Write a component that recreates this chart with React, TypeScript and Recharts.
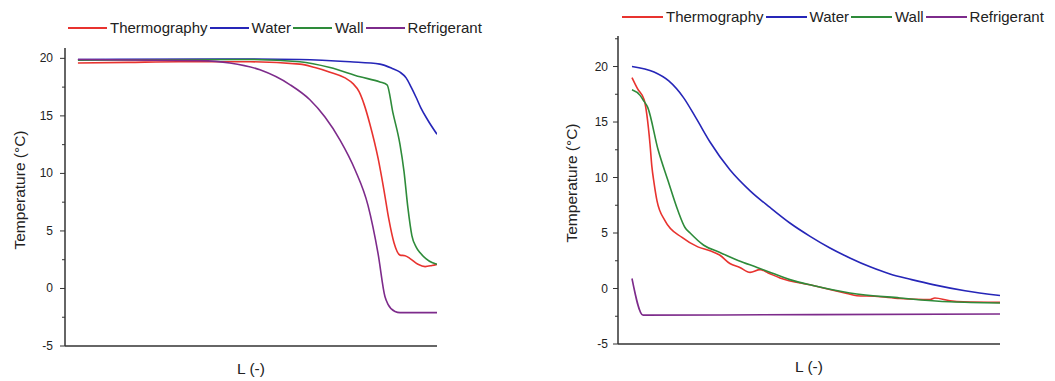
import { LineChart, Line, XAxis, YAxis } from "recharts"

const FONT = "'Liberation Sans', Arial, sans-serif"
const TEXT = "#222"
const AXIS = "#333"

const SERIES = ["Thermography", "Water", "Wall", "Refrigerant"]
const COLORS = ["#e8332f", "#2626b8", "#2e8b3a", "#7d2b8b"]

// [L, T] pairs
const thermoLeft = [
  [0, 19.6], [14, 19.65], [28, 19.7], [48, 19.7], [61.8, 19.5], [66, 19.2], [70.2, 18.8], [74.4, 18.3],
  [76.6, 17.8], [78.3, 17.1], [79.7, 16.0], [81.3, 14.3], [83.6, 11.3], [85.2, 8.6], [86.6, 6.0],
  [88.0, 4.0], [89.7, 2.9], [91.1, 2.85], [92.5, 2.6], [94.7, 2.1], [96.7, 1.9], [98.6, 2.0], [100, 2.1],
]
const waterLeft = [
  [0, 19.9], [40, 19.95], [61.8, 19.9], [75.8, 19.7], [84.1, 19.5], [87.7, 19.1], [89.7, 18.8],
  [91.4, 18.3], [92.8, 17.5], [94.2, 16.6], [95.5, 15.7], [97.5, 14.6], [100, 13.4],
]
const wallLeft = [
  [0, 19.85], [48, 19.9], [61.8, 19.7], [70.2, 19.2], [78.6, 18.4], [84.1, 17.95], [86.1, 17.7],
  [87.7, 15.3], [89.7, 12.5], [90.8, 10.2], [91.9, 7.0], [93.0, 4.6], [94.2, 3.6], [95.3, 3.1],
  [96.9, 2.6], [98.6, 2.25], [100, 2.1],
]
const refrigLeft = [
  [0, 19.9], [34, 19.8], [42.3, 19.6], [50.7, 19.0], [59.1, 17.7], [64.6, 16.4], [68.8, 14.9],
  [73.0, 12.9], [77.2, 10.3], [80.8, 7.2], [83.6, 3.0], [85.5, -0.7], [86.4, -1.4], [88.3, -2.0],
  [89.7, -2.1], [100, -2.1],
]

// [L, T] pairs
const thermoRight = [
  [0, 19.0], [1.5, 18.0], [3.3, 17.0], [4.9, 13.0], [5.4, 11.0], [6.0, 9.5], [6.8, 7.9], [9.0, 6.1],
  [13.6, 4.6], [17.9, 3.75], [21.2, 3.4], [23.9, 3.0], [26.6, 2.25], [29.3, 1.9], [32.1, 1.45],
  [34.8, 1.7], [37, 1.4], [40.2, 0.95], [49.2, 0.27], [58.4, -0.45], [61.1, -0.65], [66, -0.7],
  [72.8, -0.9], [81, -1.0], [82.3, -0.85], [86.4, -1.1], [90, -1.2], [100, -1.25],
]
const waterRight = [
  [0, 20.0], [6, 19.5], [10, 18.7], [14, 17.2], [17.5, 15.3], [21.2, 13.2], [26.6, 10.7], [32.1, 8.8],
  [37.5, 7.3], [42.9, 5.9], [48.4, 4.7], [53.8, 3.65], [59.2, 2.75], [64.7, 1.95], [70.1, 1.3],
  [76, 0.8], [81.8, 0.35], [90.5, -0.2], [100, -0.63],
]
const wallRight = [
  [0, 17.9], [2.2, 17.4], [3.0, 17.0], [4.3, 16.3], [7.1, 12.5], [9.8, 9.7], [12.5, 7.0], [14.4, 5.5],
  [15.8, 5.0], [19.5, 3.9], [23.9, 3.25], [29, 2.5], [34, 1.9], [38, 1.4], [42.9, 0.8], [49.2, 0.27],
  [59.2, -0.4], [72.8, -0.85], [86.4, -1.2], [100, -1.3],
]
const refrigRight = [[0, 0.9], [3.0, -2.4], [50, -2.35], [100, -2.3]]

const leftTicks = [-5, -2.5, 0, 2.5, 5, 7.5, 10, 12.5, 15, 17.5, 20]
const rightTicks = [-5, -2.5, 0, 2.5, 5, 7.5, 10, 12.5, 15, 17.5, 20, 22.5]

const toRows = (pts: number[][]) => pts.map(([L, T]) => ({ L, T }))

const TICK_SIZE = 5

const makeTick = (margin: number) => ({ x, y, payload }: any) => {
  const v = payload.value
  const major = v % 5 === 0
  const ax = x + TICK_SIZE + margin
  return (
    <g>
      <line x1={ax - (major ? 5 : 3)} x2={ax} y1={y} y2={y} stroke={AXIS} strokeWidth={1} />
      {major && (
        <text x={x} y={y} dy={4} textAnchor="end" fontSize={12} fontFamily={FONT} fill={TEXT}>
          {v}
        </text>
      )}
    </g>
  )
}

function Legend({ left, top, lineW }: { left: number; top: number; lineW: number }) {
  return (
    <div
      style={{
        position: "absolute",
        left,
        top,
        display: "flex",
        alignItems: "center",
        fontFamily: FONT,
        fontSize: 15,
        color: TEXT,
        whiteSpace: "nowrap",
      }}
    >
      {SERIES.map((s, i) => (
        <div key={s} style={{ display: "flex", alignItems: "center", marginRight: 2 }}>
          <span style={{ width: lineW, height: 2, background: COLORS[i], marginRight: 3 }} />
          <span>{s}</span>
        </div>
      ))}
    </div>
  )
}

function Panel({
  data,
  width,
  margin,
  yWidth,
  xHeight,
  xDomain,
  yDomain,
  ticks,
  tickMargin,
  yLabelX,
}: {
  data: number[][][]
  width: number
  margin: { top: number; right: number; left: number; bottom: number }
  yWidth: number
  xHeight: number
  xDomain: number[]
  yDomain: number[]
  ticks: number[]
  tickMargin: number
  yLabelX: number
}) {
  return (
    <LineChart width={width} height={381} margin={margin}>
      <XAxis
        type="number"
        dataKey="L"
        domain={xDomain}
        allowDataOverflow
        tick={false}
        tickLine={false}
        height={xHeight}
        axisLine={{ stroke: AXIS, strokeWidth: 1.5 }}
        label={{
          content: ({ viewBox }: any) => (
            <text
              x={viewBox.x + viewBox.width / 2}
              y={viewBox.y + 28}
              textAnchor="middle"
              fontSize={15.5}
              fontFamily={FONT}
              fill={TEXT}
            >
              L (-)
            </text>
          ),
        }}
      />
      <YAxis
        type="number"
        domain={yDomain}
        allowDataOverflow
        ticks={ticks}
        interval={0}
        width={yWidth}
        tickSize={TICK_SIZE}
        tickMargin={tickMargin}
        tickLine={false}
        tick={makeTick(tickMargin)}
        axisLine={{ stroke: AXIS, strokeWidth: 1.5 }}
        label={{
          content: ({ viewBox }: any) => {
            const cy = viewBox.y + viewBox.height / 2 - 7
            return (
              <text
                x={yLabelX}
                y={cy}
                transform={`rotate(-90 ${yLabelX} ${cy})`}
                textAnchor="middle"
                dominantBaseline="central"
                fontSize={15.5}
                fontFamily={FONT}
                fill={TEXT}
              >
                Temperature (°C)
              </text>
            )
          },
        }}
      />
      {data.map((pts, i) => (
        <Line
          key={SERIES[i]}
          data={toRows(pts)}
          dataKey="T"
          name={SERIES[i]}
          type="monotone"
          stroke={COLORS[i]}
          strokeWidth={1.6}
          dot={false}
          isAnimationActive={false}
        />
      ))}
    </LineChart>
  )
}

export default function App() {
  return (
    <div style={{ position: "absolute", left: 0, top: 0, width: 1055, height: 381, background: "#fff" }}>
      <div style={{ position: "absolute", left: 0, top: 0 }}>
        <Panel
          data={[thermoLeft, waterLeft, wallLeft, refrigLeft]}
          width={450}
          margin={{ top: 48, right: 13, left: 0, bottom: 0 }}
          yWidth={65}
          xHeight={35}
          xDomain={[-3.6, 100]}
          yDomain={[-5, 20.9]}
          ticks={leftTicks}
          tickMargin={7}
          yLabelX={19}
        />
      </div>
      <div style={{ position: "absolute", left: 530, top: 0 }}>
        <Panel
          data={[thermoRight, waterRight, wallRight, refrigRight]}
          width={525}
          margin={{ top: 36, right: 55, left: 0, bottom: 0 }}
          yWidth={88}
          xHeight={37}
          xDomain={[-3.8, 100]}
          yDomain={[-5, 22.75]}
          ticks={rightTicks}
          tickMargin={5}
          yLabelX={41}
        />
      </div>
      <Legend left={68} top={19} lineW={39} />
      <Legend left={622} top={8} lineW={41} />
    </div>
  )
}
